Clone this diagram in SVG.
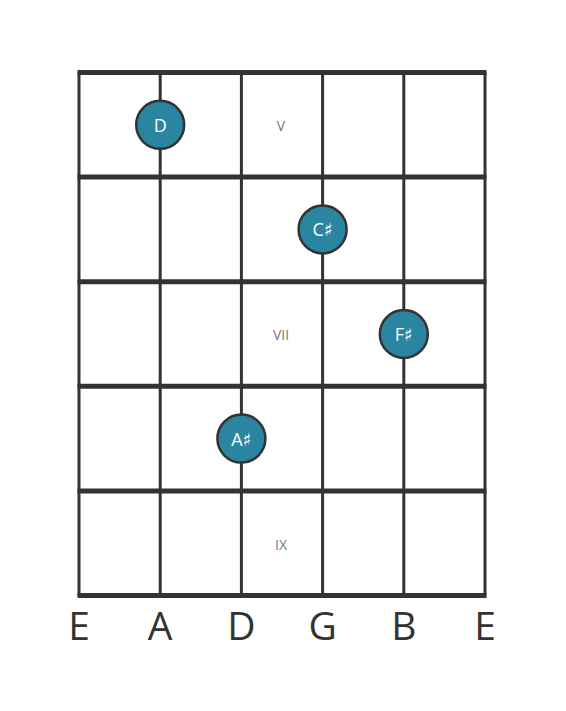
<svg xmlns="http://www.w3.org/2000/svg" width="566" height="711" viewBox="0 0 566 711">
<style>
.fret{stroke:#333;stroke-width:5;}
.str{stroke:#333;stroke-width:3;}
.dot{fill:#2a85a0;stroke:#333;stroke-width:2.5;}
.nt{font-family:"Open Sans","DejaVu Sans",sans-serif;font-size:18px;fill:#fff;text-anchor:middle;dominant-baseline:central;}
.rn{font-family:"Open Sans","DejaVu Sans",sans-serif;font-size:14px;fill:#777;text-anchor:middle;dominant-baseline:central;}
.sl{font-family:"Open Sans","DejaVu Sans",sans-serif;font-size:39px;fill:#333;text-anchor:middle;}
</style>
<rect width="566" height="711" fill="#fff"/>
<g id="grid">
<line class="str" x1="79" y1="72" x2="79" y2="596"/>
<line class="str" x1="160.2" y1="72" x2="160.2" y2="596"/>
<line class="str" x1="241.4" y1="72" x2="241.4" y2="596"/>
<line class="str" x1="322.6" y1="72" x2="322.6" y2="596"/>
<line class="str" x1="403.8" y1="72" x2="403.8" y2="596"/>
<line class="str" x1="485" y1="72" x2="485" y2="596"/>
<line class="fret" x1="77.5" y1="72.5" x2="486.5" y2="72.5"/>
<line class="fret" x1="77.5" y1="177.1" x2="486.5" y2="177.1"/>
<line class="fret" x1="77.5" y1="281.7" x2="486.5" y2="281.7"/>
<line class="fret" x1="77.5" y1="386.3" x2="486.5" y2="386.3"/>
<line class="fret" x1="77.5" y1="490.9" x2="486.5" y2="490.9"/>
<line class="fret" x1="77.5" y1="595.5" x2="486.5" y2="595.5"/>
</g>
<g id="frets">
<text class="rn" x="281" y="125">V</text>
<text class="rn" x="281" y="334">VII</text>
<text class="rn" x="281" y="544">IX</text>
</g>
<g id="note-D"><circle class="dot" cx="160.2" cy="124.8" r="24"/><text class="nt" x="160.2" y="124.8">D</text></g>
<g id="note-Cs"><circle class="dot" cx="322.6" cy="229.4" r="24"/><text class="nt" x="322.6" y="229.4">C♯</text></g>
<g id="note-Fs"><circle class="dot" cx="403.8" cy="334" r="24"/><text class="nt" x="403.8" y="334">F♯</text></g>
<g id="note-As"><circle class="dot" cx="241.4" cy="438.6" r="24"/><text class="nt" x="241.4" y="438.6">A♯</text></g>
<g id="strings">
<text class="sl" x="79" y="640">E</text>
<text class="sl" x="160.2" y="640">A</text>
<text class="sl" x="241.4" y="640">D</text>
<text class="sl" x="322.6" y="640">G</text>
<text class="sl" x="403.8" y="640">B</text>
<text class="sl" x="485" y="640">E</text>
</g>
</svg>
